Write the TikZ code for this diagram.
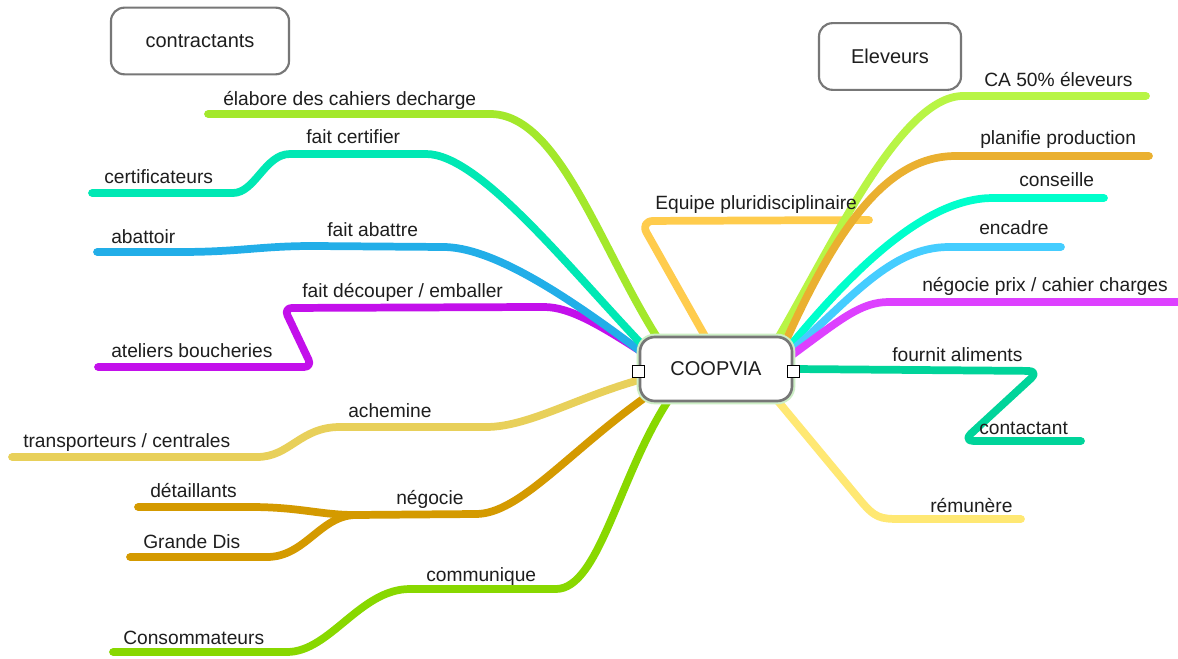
\documentclass[tikz,border=0pt]{standalone}
\usepackage{fontspec}
\setmainfont{Liberation Sans}
\usepackage{tikz}
\usetikzlibrary{positioning,calc,backgrounds}

\definecolor{cElab}{HTML}{A3E82B}
\definecolor{cCert}{HTML}{00E8B4}
\definecolor{cAbat}{HTML}{22AEE8}
\definecolor{cDecoup}{HTML}{C310EB}
\definecolor{cAchem}{HTML}{E8D05A}
\definecolor{cNego}{HTML}{D49A00}
\definecolor{cComm}{HTML}{88D800}
\definecolor{cEquipe}{HTML}{FFCC4D}
\definecolor{cCA}{HTML}{B8F545}
\definecolor{cPlan}{HTML}{EAB030}
\definecolor{cCons}{HTML}{00FFCC}
\definecolor{cEnca}{HTML}{45CDFF}
\definecolor{cPrix}{HTML}{DD40FF}
\definecolor{cFourn}{HTML}{00D49A}
\definecolor{cRemu}{HTML}{FFE873}
\definecolor{boxgray}{HTML}{777777}
\definecolor{glow}{HTML}{CDEFC6}
\definecolor{ink}{HTML}{1E1E1E}

\tikzset{
  branch/.style={line width=5.8pt, line cap=round, line join=round},
  lbl/.style={anchor=base west, inner sep=0pt, text=ink, font=\fontsize{14.4}{17}\selectfont},
  groupbox/.style={draw=boxgray, line width=1.6pt, rounded corners=10pt, fill=white,
    minimum height=50pt, text=ink, font=\fontsize{15}{18}\selectfont},
  centre/.style={draw=boxgray, line width=2pt, fill=white, rounded corners=11pt,
    minimum width=114pt, minimum height=48pt, preaction={draw=glow, line width=5pt},
    text=ink, font=\fontsize{15}{18}\selectfont},
  handle/.style={draw=black, fill=white, line width=0.6pt, minimum size=9pt, inner sep=0pt}
}

\begin{document}
\begin{tikzpicture}[x=0.75pt, y=-0.75pt]
    \useasboundingbox (0,0) rectangle (1178,659);

    % Group boxes
    \node [groupbox, minimum width=133.5pt] (contr) at (200,41) {contractants};
    \node [groupbox, minimum width=106.5pt] (elev) at (890,56.5) {Eleveurs};

    % Central topic
    \node [centre] (coop) at (716,369) {COOPVIA};
    \node [handle] (hookL) at ($(coop.west)+(0,2)$) {};
    \node [handle] (hookR) at ($(coop.east)+(0,2)$) {};

    % Labels, left
    \node [lbl] (elabLbl) at (223,106) {élabore des cahiers decharge};
    \node [lbl] (certLbl) at (306,144) {fait certifier};
    \node [lbl] (certifLbl) at (104,184) {certificateurs};
    \node [lbl] (abatLbl) at (327,237) {fait abattre};
    \node [lbl] (abattoirLbl) at (111,244) {abattoir};
    \node [lbl] (decoupLbl) at (302,298) {fait découper / emballer};
    \node [lbl] (atelLbl) at (111,357) {ateliers boucheries};
    \node [lbl] (achemLbl) at (348,417) {achemine};
    \node [lbl] (transLbl) at (23,447) {transporteurs / centrales};
    \node [lbl] (detLbl) at (150,497) {détaillants};
    \node [lbl] (negoLbl) at (396,504) {négocie};
    \node [lbl] (gdLbl) at (143,548) {Grande Dis};
    \node [lbl] (commLbl) at (426,581) {communique};
    \node [lbl] (consoLbl) at (123,644) {Consommateurs};

    % Labels, right
    \node [lbl] (equipeLbl) at (655,210) {Equipe pluridisciplinaire};
    \node [lbl] (caLbl) at (984,87) {CA 50\% éleveurs};
    \node [lbl] (planLbl) at (980,145) {planifie production};
    \node [lbl] (conseilLbl) at (1019,187) {conseille};
    \node [lbl] (encaLbl) at (979,235) {encadre};
    \node [lbl] (prixLbl) at (922,292) {négocie prix / cahier charges};
    \node [lbl] (fournLbl) at (892,361) {fournit aliments};
    \node [lbl] (contLbl) at (979,434) {contactant};
    \node [lbl] (remuLbl) at (930,512) {rémunère};

    % Free ends of the branches
    \coordinate (elabEnd) at (208,114);
    \coordinate (certEnd) at (92,193);
    \coordinate (abatEnd) at (97,252);
    \coordinate (atelEnd) at (98,367);
    \coordinate (transEnd) at (12,457);
    \coordinate (detEnd) at (138,507);
    \coordinate (gdEnd) at (130,557);
    \coordinate (negoJoin) at (355,515);
    \coordinate (consoEnd) at (113,652);
    \coordinate (equipeEnd) at (869,220);
    \coordinate (caEnd) at (1146,96);
    \coordinate (planEnd) at (1149,156);
    \coordinate (conseilEnd) at (1104,198);
    \coordinate (encaEnd) at (1061,247);
    \coordinate (prixEnd) at (1190,302);
    \coordinate (contEnd) at (1081,441);
    \coordinate (remuEnd) at (1021,519);

    % Branches
    \begin{pgfonlayer}{background}
    \fill [white] (0,0) rectangle (1178,659);
    \draw [branch, cEquipe, rounded corners=10pt] (equipeEnd) -- (640,221) -- ($(coop)+(-6,-24)$);
    \draw [branch, cDecoup] (atelEnd) [rounded corners=6pt] -- (312,367) -- (284,308) -- (536,307) [sharp corners]
        .. controls (570,307) and (600,325) .. ($(coop)+(-68,-13)$);
    \draw [branch, cAbat] (abatEnd) -- (180,252) .. controls (240,252) and (260,246) .. (313,246) -- (443,247)
        .. controls (490,247) and (560,290) .. ($(coop)+(-68,-12)$);
    \draw [branch, cCert] (certEnd) -- (233,193) .. controls (255,193) and (265,154) .. (290,154) -- (426,154)
        .. controls (480,154) and (570,270) .. ($(coop)+(-66,-16)$);
    \draw [branch, cElab] (elabEnd) -- (490,114) .. controls (560,114) and (600,250) .. ($(coop)+(-54,-24)$);
    \draw [branch, cAchem] (transEnd) -- (257,457) .. controls (290,457) and (300,427) .. (340,427) -- (486,427)
        .. controls (530,427) and (580,395) .. ($(coop)+(-66,8)$);
    \draw [branch, cNego] (detEnd) -- (250,507) .. controls (300,507) and (320,515) .. (negoJoin);
    \draw [branch, cNego] (gdEnd) -- (267,557) .. controls (305,557) and (320,516) .. (negoJoin);
    \draw [branch, cNego] (negoJoin) -- (476,514) .. controls (520,514) and (570,450) .. ($(coop)+(-66,25)$);
    \draw [branch, cComm] (consoEnd) -- (287,652) .. controls (330,652) and (360,589) .. (410,589) -- (556,589)
        .. controls (600,589) and (620,470) .. ($(coop)+(-44,26)$);
    \draw [branch, cCA] ($(coop)+(58,-24)$) .. controls (830,250) and (900,96) .. (963,96) -- (caEnd);
    \draw [branch, cPlan] ($(coop)+(68,-24)$) .. controls (840,220) and (890,156) .. (956,156) -- (planEnd);
    \draw [branch, cCons] ($(coop)+(70,-18)$) .. controls (860,260) and (930,198) .. (993,198) -- (conseilEnd);
    \draw [branch, cEnca] ($(coop)+(72,-15)$) .. controls (850,300) and (890,247) .. (949,247) -- (encaEnd);
    \draw [branch, cPrix] ($(coop)+(72,-11)$) .. controls (840,320) and (860,302) .. (889,302) -- (prixEnd);
    \draw [branch, cFourn, rounded corners=8pt] (coop.east) -- (1039,371) -- (963,441) -- (contEnd);
    \draw [branch, cRemu] ($(coop)+(56,25)$) -- (860,500) .. controls (875,518) and (880,519) .. (900,519) -- (remuEnd);
    \end{pgfonlayer}

\end{tikzpicture}
\end{document}
